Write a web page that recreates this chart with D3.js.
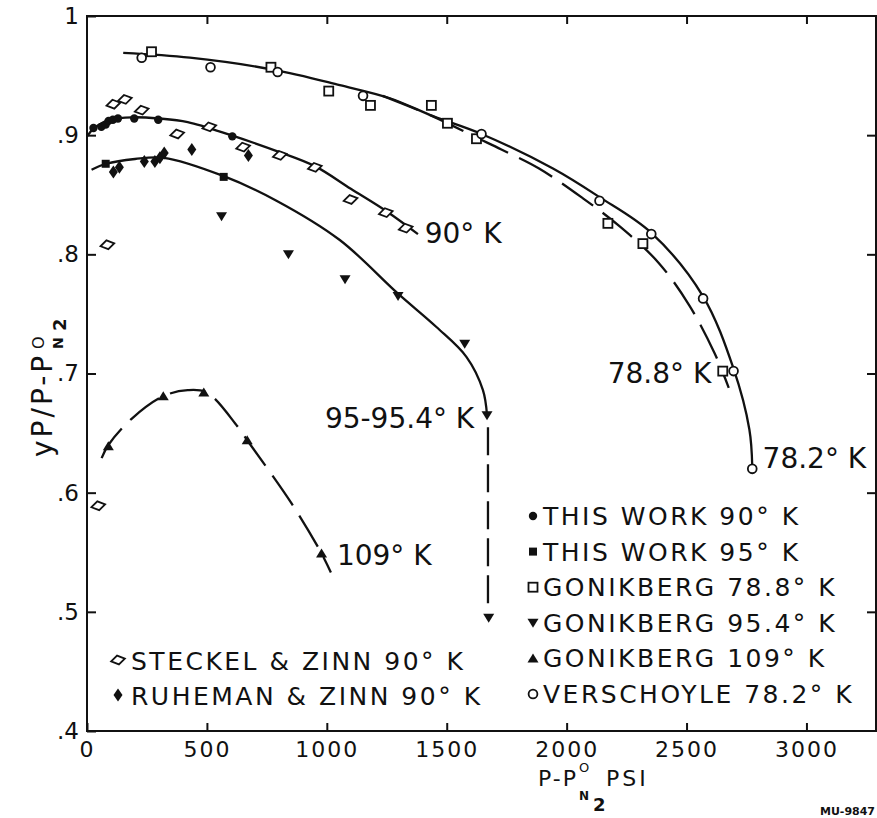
<!DOCTYPE html>
<html>
<head>
<meta charset="utf-8">
<script src="https://cdn.jsdelivr.net/npm/d3@7"></script>
<style>
  html, body { margin: 0; padding: 0; background: #fff; }
  svg { display: block; }
  text { font-family: "DejaVu Sans", sans-serif; fill: #111; }
</style>
</head>
<body>
<svg id="chart" width="877" height="818"></svg>
<script>
// ---- axis ticks ----
const xTicks = [0, 500, 1000, 1500, 2000, 2500, 3000];
const xTickLabels = ["0", "500", "1000", "1500", "2000", "2500", "3000"];
const yTicks = [0.4, 0.5, 0.6, 0.7, 0.8, 0.9, 1.0];
const yTickLabels = [".4", ".5", ".6", ".7", ".8", ".9", "1"];

// ---- measured points: [P - P0N2 (psi), yP/(P - P0N2)] ----
const thisWork90 = [[27, 0.906], [60, 0.907], [78, 0.909], [90, 0.912], [108, 0.913], [129, 0.914], [197, 0.914], [297, 0.913], [606, 0.899]];
const thisWork95 = [[78, 0.876], [570, 0.865]];
const gonikberg788 = [[269, 0.970], [767, 0.957], [1008, 0.937], [1182, 0.925], [1436, 0.925], [1503, 0.910], [1624, 0.897], [2172, 0.826], [2318, 0.809], [2651, 0.702]];
const gonikberg954 = [[561, 0.832], [840, 0.800], [1076, 0.779], [1297, 0.765], [1575, 0.725], [1668, 0.665], [1675, 0.495]];
const gonikberg109 = [[89, 0.639], [318, 0.681], [487, 0.684], [668, 0.644], [978, 0.549]];
const verschoyle782 = [[228, 0.965], [515, 0.957], [795, 0.953], [1151, 0.933], [1645, 0.901], [2137, 0.845], [2353, 0.817], [2569, 0.763], [2696, 0.702], [2774, 0.620]];
const steckelZinn90 = [[47, 0.589], [85, 0.808], [110, 0.926], [158, 0.930], [228, 0.921], [376, 0.901], [510, 0.907], [651, 0.890], [804, 0.883], [950, 0.873], [1099, 0.846], [1246, 0.835], [1329, 0.822]];
const ruhemanZinn90 = [[110, 0.869], [135, 0.873], [239, 0.878], [283, 0.878], [304, 0.881], [322, 0.885], [437, 0.888], [673, 0.883]];

// ---- smoothed curves through the data ----
const curve782 = [[151, 0.969], [429, 0.965], [776, 0.955], [1054, 0.942], [1263, 0.931], [1443, 0.916], [1645, 0.901], [1943, 0.872], [2137, 0.848], [2353, 0.818], [2568, 0.765], [2696, 0.704], [2762, 0.653], [2774, 0.622]];
const curve788 = [[1233, 0.933], [1440, 0.916], [1624, 0.898], [1728, 0.888], [1885, 0.872], [2068, 0.847], [2224, 0.823], [2383, 0.793], [2512, 0.757], [2617, 0.717], [2676, 0.688]];
const curve90 = [[0, 0.899], [30, 0.906], [100, 0.913], [190, 0.915], [300, 0.914], [420, 0.911], [600, 0.900], [800, 0.886], [950, 0.874], [1100, 0.855], [1250, 0.836], [1380, 0.817]];
const curve95 = [[19, 0.871], [80, 0.876], [200, 0.880], [320, 0.881], [565, 0.866], [790, 0.845], [1054, 0.812], [1297, 0.767], [1457, 0.739], [1582, 0.714], [1651, 0.686], [1668, 0.665]];
const drop954 = [[1672, 0.655], [1672, 0.505]];
const curve109 = [[61, 0.629], [89, 0.640], [186, 0.662], [318, 0.681], [420, 0.686], [500, 0.684], [626, 0.656], [668, 0.644], [853, 0.591], [978, 0.549], [1017, 0.533]];

// ---- curve labels: [text, x, y] (left end of text, baseline) ----
const curveLabels = [
  ["90° K", 1408, 0.8096],
  ["78.8° K", 2171, 0.6921],
  ["78.2° K", 2817, 0.6208],
  ["95-95.4° K", 992, 0.6544],
  ["109° K", 1042, 0.5394]
];

// ---- legends ----
const legendRight = [
  ["fcircle", "THIS WORK 90° K"],
  ["fsquare", "THIS WORK 95° K"],
  ["osquare", "GONIKBERG 78.8° K"],
  ["dtri", "GONIKBERG 95.4° K"],
  ["utri", "GONIKBERG 109° K"],
  ["ocircle", "VERSCHOYLE 78.2° K"]
];
const legendLeft = [
  ["odiamond", "STECKEL & ZINN 90° K"],
  ["fdiamond", "RUHEMAN & ZINN 90° K"]
];

const W = 877, H = 818;
const plot = { left: 87, right: 876, top: 16, bottom: 731 };

const svg = d3.select("#chart");
svg.append("rect").attr("width", W).attr("height", H).attr("fill", "#fff");

const x = d3.scaleLinear().domain([0, 3290]).range([plot.left, plot.right]);
const y = d3.scaleLinear().domain([0.4, 1.0]).range([plot.bottom, plot.top]);

// ---- frame and inward ticks ----
const axisStyle = g => {
  g.select(".domain").remove();
  g.selectAll(".tick line").attr("stroke", "#111").attr("stroke-width", 2);
};

svg.append("g").attr("transform", `translate(0,${plot.bottom})`)
  .call(d3.axisBottom(x).tickValues(xTicks).tickSize(-8).tickPadding(10)
    .tickFormat((d, i) => xTickLabels[i]))
  .call(axisStyle)
  .call(g => g.selectAll("text").attr("font-size", 22).attr("letter-spacing", 2)
    .attr("font-family", "DejaVu Sans").attr("fill", "#111"));

svg.append("g").attr("transform", `translate(${plot.left},0)`)
  .call(d3.axisLeft(y).tickValues(yTicks).tickSize(-9).tickPadding(8)
    .tickFormat((d, i) => yTickLabels[i]))
  .call(axisStyle)
  .call(g => g.selectAll("text").attr("font-size", 23)
    .attr("font-family", "DejaVu Sans").attr("fill", "#111"));

svg.append("g").attr("transform", `translate(0,${plot.top})`)
  .call(d3.axisTop(x).tickValues(xTicks.slice(1)).tickSize(-8).tickFormat(""))
  .call(axisStyle);

svg.append("g").attr("transform", `translate(${plot.right},0)`)
  .call(d3.axisRight(y).tickValues(yTicks.slice(1, -1)).tickSize(-9).tickFormat(""))
  .call(axisStyle);

svg.append("rect")
  .attr("x", plot.left).attr("y", plot.top)
  .attr("width", plot.right - plot.left).attr("height", plot.bottom - plot.top)
  .attr("fill", "none").attr("stroke", "#111").attr("stroke-width", 2);

// ---- curves ----
const line = d3.line().x(d => x(d[0])).y(d => y(d[1])).curve(d3.curveCatmullRom.alpha(0.5));
const curves = svg.append("g").attr("fill", "none").attr("stroke", "#111")
  .attr("stroke-width", 2.3).attr("stroke-linecap", "butt");
curves.append("path").attr("d", line(curve782));
curves.append("path").attr("d", line(curve788)).attr("stroke-dasharray", "38,12");
curves.append("path").attr("d", line(curve90));
curves.append("path").attr("d", line(curve95));
curves.append("path").attr("d", line(drop954)).attr("stroke-dasharray", "28,9");
curves.append("path").attr("d", line(curve109)).attr("stroke-dasharray", "36,12");

// ---- marker shapes ----
function marker(sel, kind) {
  switch (kind) {
    case "fcircle":
      sel.append("circle").attr("r", 4.2).attr("fill", "#111"); break;
    case "ocircle":
      sel.append("circle").attr("r", 4.4).attr("fill", "#fff").attr("stroke", "#111").attr("stroke-width", 1.8); break;
    case "fsquare":
      sel.append("rect").attr("x", -4).attr("y", -4).attr("width", 8).attr("height", 8).attr("fill", "#111"); break;
    case "osquare":
      sel.append("rect").attr("x", -4.5).attr("y", -4.5).attr("width", 9).attr("height", 9)
        .attr("fill", "#fff").attr("stroke", "#111").attr("stroke-width", 1.8); break;
    case "dtri":
      sel.append("path").attr("d", "M-5.5,-4L5.5,-4L0,5Z").attr("fill", "#111"); break;
    case "utri":
      sel.append("path").attr("d", "M-5.5,4L5.5,4L0,-5Z").attr("fill", "#111"); break;
    case "odiamond":
      sel.append("path").attr("d", "M-7,0L0,-4.5L7,0L0,4.5Z").attr("transform", "rotate(-12)")
        .attr("fill", "#fff").attr("stroke", "#111").attr("stroke-width", 1.8); break;
    case "fdiamond":
      sel.append("path").attr("d", "M-4.5,0L0,-6.5L4.5,0L0,6.5Z").attr("fill", "#111"); break;
  }
}

function plotPoints(data, kind) {
  svg.append("g").selectAll("g").data(data).join("g")
    .attr("transform", d => `translate(${x(d[0])},${y(d[1])})`)
    .each(function () { marker(d3.select(this), kind); });
}

plotPoints(steckelZinn90, "odiamond");
plotPoints(ruhemanZinn90, "fdiamond");
plotPoints(thisWork90, "fcircle");
plotPoints(thisWork95, "fsquare");
plotPoints(gonikberg788, "osquare");
plotPoints(gonikberg954, "dtri");
plotPoints(gonikberg109, "utri");
plotPoints(verschoyle782, "ocircle");

// ---- curve labels ----
svg.append("g").selectAll("text").data(curveLabels).join("text")
  .attr("x", d => x(d[1])).attr("y", d => y(d[2]))
  .attr("font-size", 28)
  .text(d => d[0]);

// ---- legends ----
const legR = svg.append("g");
legendRight.forEach((d, i) => {
  const base = 525 + i * 35.6;
  const m = legR.append("g").attr("transform", `translate(533,${base - 9})`);
  marker(m, d[0]);
  legR.append("text").attr("x", 543).attr("y", base)
    .attr("font-size", 25).attr("letter-spacing", 2.5).text(d[1]);
});
const legL = svg.append("g");
legendLeft.forEach((d, i) => {
  const base = 670 + i * 35;
  const m = legL.append("g").attr("transform", `translate(118,${base - 10})`);
  marker(m, d[0]);
  legL.append("text").attr("x", 131).attr("y", base)
    .attr("font-size", 25).attr("letter-spacing", 2.5).text(d[1]);
});

// ---- axis titles ----
const xt = svg.append("g").attr("transform", "translate(538,786)");
xt.append("text").attr("font-size", 22).attr("letter-spacing", 2).text("P-P");
xt.append("text").attr("x", 41).attr("y", -14).attr("font-size", 13).text("O");
xt.append("text").attr("x", 41).attr("y", 14).attr("font-size", 12).attr("font-weight", "bold").text("N");
xt.append("text").attr("x", 55).attr("y", 25).attr("font-size", 18).attr("font-weight", "bold").text("2");
xt.append("text").attr("x", 68).attr("font-size", 22).attr("letter-spacing", 3).text("PSI");

const yt = svg.append("g").attr("transform", "translate(52,457) rotate(-90)");
yt.append("text").attr("font-size", 28).attr("letter-spacing", 3).text("yP/P-P");
yt.append("text").attr("x", 108).attr("y", -8).attr("font-size", 16).text("O");
yt.append("text").attr("x", 108).attr("y", 11).attr("font-size", 14).attr("font-weight", "bold").text("N");
yt.append("text").attr("x", 126).attr("y", 14).attr("font-size", 18).attr("font-weight", "bold").text("2");

// ---- figure id ----
svg.append("text").attr("x", 875).attr("y", 815).attr("text-anchor", "end")
  .attr("font-size", 11).attr("font-weight", "bold").text("MU-9847");
</script>
</body>
</html>
